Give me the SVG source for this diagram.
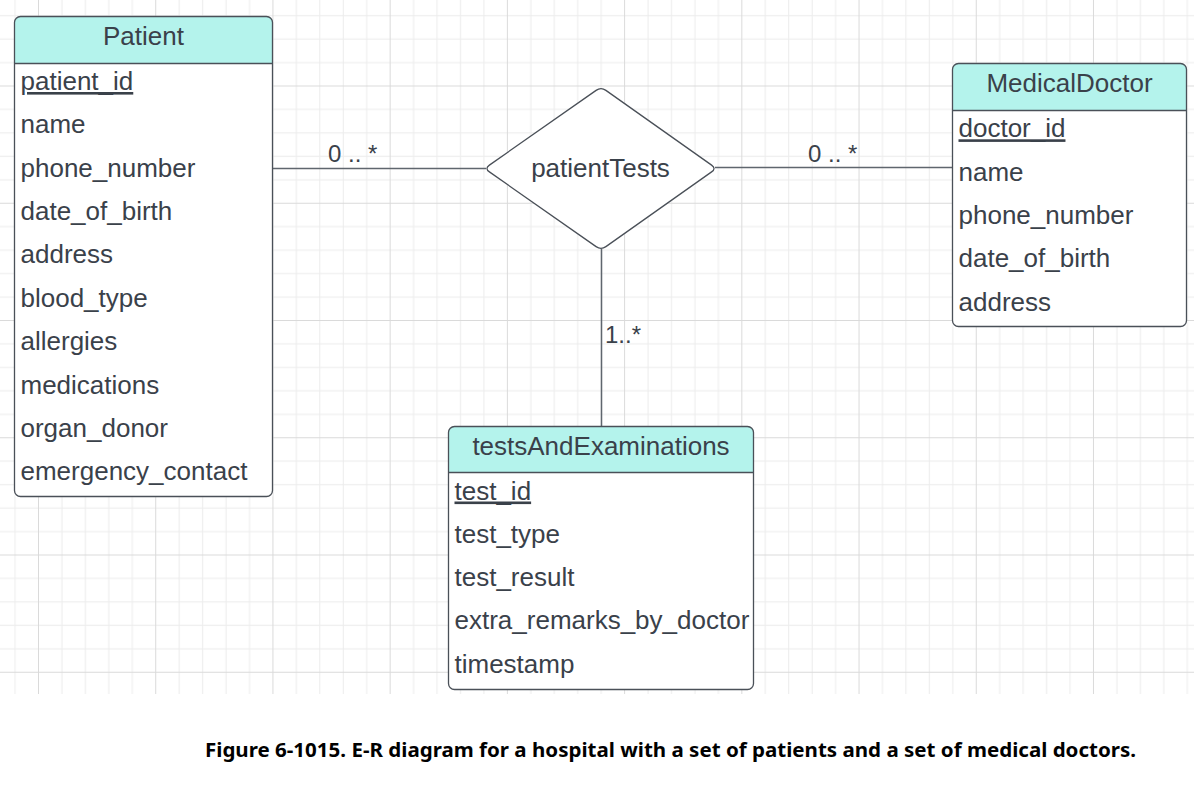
<svg xmlns="http://www.w3.org/2000/svg" width="1194" height="807" viewBox="0 0 1194 807">
<style>
.t{font-family:"Liberation Sans",Arial,sans-serif;font-size:26px;fill:#3a414a}
.h{font-family:"Liberation Sans",Arial,sans-serif;font-size:26px;fill:#3a414a;text-anchor:middle}
.k{text-decoration:underline}
.lbl{font-family:"Liberation Sans",Arial,sans-serif;font-size:24px;fill:#3a414a}
.box{fill:none;stroke:#4a5058;stroke-width:1.3}
.hdr{fill:#b4f3ec}
.sep{stroke:#4a5058;stroke-width:1.3}
.conn{stroke:#5f666e;stroke-width:1.5;fill:none}
.cap{font-family:"Noto Sans","Liberation Sans",sans-serif;font-size:20px;font-weight:bold;fill:#000}
</style>
<defs>
<pattern id="grid" patternUnits="userSpaceOnUse" x="38" y="85.5" width="117.22" height="117.25">
<path d="M0.5 0V117.25M23.94 0V117.25M47.39 0V117.25M70.83 0V117.25M94.28 0V117.25" stroke="#ececec" stroke-width="1"/>
<path d="M0 0.5H117.22M0 23.95H117.22M0 47.4H117.22M0 70.85H117.22M0 94.3H117.22" stroke="#ececec" stroke-width="1"/>
<path d="M0.5 0V117.25M0 0.5H117.22" stroke="#dadada" stroke-width="1"/>
</pattern>
</defs>
<rect width="1194" height="807" fill="#fff"/>
<rect x="0" y="0" width="1194" height="694" fill="url(#grid)"/>

<g id="connectors">
<line class="conn" x1="272.5" y1="168.5" x2="486" y2="168.5"/>
<line class="conn" x1="715" y1="167.5" x2="952.5" y2="167.5"/>
<line class="conn" x1="601.5" y1="249" x2="601.5" y2="426.5"/>
<text class="lbl" x="328" y="162">0 .. *</text>
<text class="lbl" x="808" y="162">0 .. *</text>
<text class="lbl" x="605" y="343">1..*</text>
</g>

<g id="patientTests">
<path d="M596.1,90.4 Q601,87 605.9,90.4 L711.6,165.1 Q716.5,168.5 711.6,171.9 L605.9,246.6 Q601,250 596.1,246.6 L489.4,171.9 Q484.5,168.5 489.4,165.1 Z" fill="#fff" stroke="#4a5058" stroke-width="1.3"/>
<text class="h" x="600.5" y="176.5">patientTests</text>
</g>

<g id="Patient">
<path class="hdr" d="M14.5,63.5 V22.5 Q14.5,16.5 20.5,16.5 H266.5 Q272.5,16.5 272.5,22.5 V63.5 Z"/>
<rect x="14.5" y="63.5" width="258" height="433" fill="#fff"/>
<rect class="box" x="14.5" y="16.5" width="258" height="480" rx="6"/>
<line class="sep" x1="14.5" y1="63.5" x2="272.5" y2="63.5"/>
<text class="h" x="143.5" y="45">Patient</text>
<text class="t k" x="20.5" y="90">patient_id</text>
<text class="t" x="20.5" y="133.4">name</text>
<text class="t" x="20.5" y="176.7">phone_number</text>
<text class="t" x="20.5" y="220">date_of_birth</text>
<text class="t" x="20.5" y="263.4">address</text>
<text class="t" x="20.5" y="306.8">blood_type</text>
<text class="t" x="20.5" y="350.1">allergies</text>
<text class="t" x="20.5" y="393.5">medications</text>
<text class="t" x="20.5" y="436.8">organ_donor</text>
<text class="t" x="20.5" y="480.2">emergency_contact</text>
</g>

<g id="MedicalDoctor">
<path class="hdr" d="M952.5,110.5 V69.5 Q952.5,63.5 958.5,63.5 H1180.5 Q1186.5,63.5 1186.5,69.5 V110.5 Z"/>
<rect x="952.5" y="110.5" width="234" height="216" fill="#fff"/>
<rect class="box" x="952.5" y="63.5" width="234" height="263" rx="6"/>
<line class="sep" x1="952.5" y1="110.5" x2="1186.5" y2="110.5"/>
<text class="h" x="1069.5" y="91.7">MedicalDoctor</text>
<text class="t k" x="958.5" y="137.3">doctor_id</text>
<text class="t" x="958.5" y="180.6">name</text>
<text class="t" x="958.5" y="224">phone_number</text>
<text class="t" x="958.5" y="267.3">date_of_birth</text>
<text class="t" x="958.5" y="310.6">address</text>
</g>

<g id="testsAndExaminations">
<path class="hdr" d="M448.5,472.5 V432.5 Q448.5,426.5 454.5,426.5 H747.5 Q753.5,426.5 753.5,432.5 V472.5 Z"/>
<rect x="448.5" y="472.5" width="305" height="217" fill="#fff"/>
<rect class="box" x="448.5" y="426.5" width="305" height="263" rx="6"/>
<line class="sep" x1="448.5" y1="472.5" x2="753.5" y2="472.5"/>
<text class="h" x="601" y="455">testsAndExaminations</text>
<text class="t k" x="454.5" y="499.5">test_id</text>
<text class="t" x="454.5" y="542.8">test_type</text>
<text class="t" x="454.5" y="586.1">test_result</text>
<text class="t" x="454.5" y="629.4">extra_remarks_by_doctor</text>
<text class="t" x="454.5" y="672.7">timestamp</text>
</g>

<text class="cap" x="205" y="756.5" textLength="931" lengthAdjust="spacingAndGlyphs">Figure 6-1015. E-R diagram for a hospital with a set of patients and a set of medical doctors.</text>
</svg>
